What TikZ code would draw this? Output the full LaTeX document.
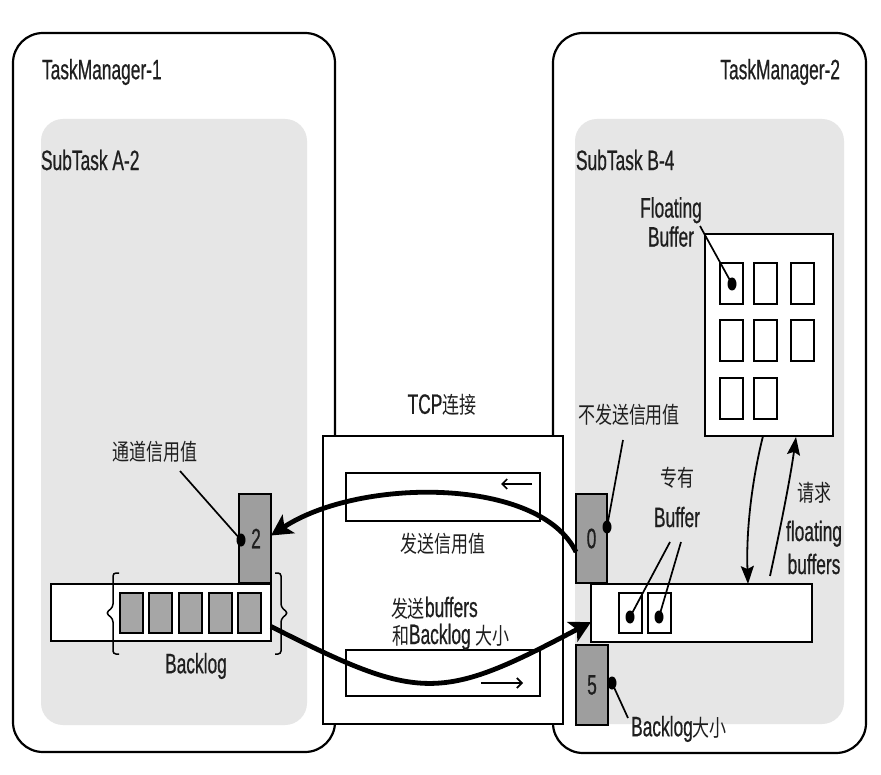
\documentclass[tikz,border=0pt]{standalone}
\usepackage{fontspec}
\setmainfont{Liberation Sans}[FakeStretch=0.62,FakeBold=0.6]
\newfontfamily\cjk{Noto Sans CJK SC}[FakeStretch=0.74,Scale=0.82]
\usetikzlibrary{arrows.meta}
\definecolor{subgray}{HTML}{E6E6E6}
\definecolor{credgray}{HTML}{9E9E9E}
\definecolor{sqgray}{HTML}{A6A6A6}
\begin{document}
\begin{tikzpicture}[x=1pt,y=-1pt,
  every node/.style={font=\fontsize{28}{33}\selectfont, inner sep=0pt, outer sep=0pt, text=black!88},
  tmbox/.style={draw, line width=2.2pt, rounded corners=30pt, fill=white, anchor=north west},
  subbox/.style={fill=subgray, rounded corners=22pt, anchor=north west},
  wbox/.style={draw, line width=2pt, fill=white, anchor=north west},
  gbox/.style={draw, line width=2pt, fill=credgray, anchor=north west},
  bsq/.style={draw, line width=2pt, fill=sqgray, anchor=north west, minimum width=23pt, minimum height=40pt},
  wsq/.style={draw, line width=2pt, fill=white, anchor=north west, minimum width=23pt, minimum height=41pt},
  leader/.style={line width=1.7pt},
  bigarrow/.style={line width=4.8pt, -{Stealth[length=21pt,width=22pt,inset=5pt]}},
  poolarrow/.style={line width=1.8pt, -{Stealth[length=18pt,width=13pt,inset=3pt]}},
  smallarrow/.style={line width=1.7pt, -{Straight Barb[length=5pt,width=10pt]}},
  dotmark/.style={fill=black}
]
\useasboundingbox (0,0) rectangle (881,775);
% TaskManager boxes
\node[tmbox, minimum width=322pt, minimum height=719pt] (tm1) at (13,33) {};
\node[tmbox, minimum width=313pt, minimum height=720pt] (tm2) at (553,33) {};
\node[subbox, minimum width=266pt, minimum height=606pt] (sub1) at (41,119) {};
\node[subbox, minimum width=269pt, minimum height=605pt] (sub2) at (575,119) {};
\node[anchor=west] (tm1lbl) at (42,72) {TaskManager-1};
\node[anchor=east] (tm2lbl) at (840,72) {TaskManager-2};
\node[anchor=west] (sub1lbl) at (41,160) {SubTask A-2};
\node[anchor=west] (sub2lbl) at (576,160) {SubTask B-4};

% TCP box
\node[wbox, minimum width=240pt, minimum height=288pt] (tcp) at (323,436) {};
\node (tcplbl) at (442,405) {TCP{\cjk 连接}};
\node[wbox, minimum width=194pt, minimum height=48pt] (ctop) at (346,473) {};
\node[wbox, minimum width=194pt, minimum height=46pt] (cbot) at (346,650) {};
\node (sendcred) at (443,544) {\cjk 发送信用值};
\node[anchor=base west] (sendbuf1) at (391,617) {{\cjk 发送}buffers};
\node[anchor=base west] (sendbuf2) at (392,644) {{\cjk 和}Backlog {\cjk 大小}};
\coordinate (a1s) at (532,484);
\coordinate (a1e) at (501,484);
\coordinate (a2s) at (481,683);
\coordinate (a2e) at (523,683);
\draw[smallarrow] (a1s) -- (a1e);
\draw[smallarrow] (a2s) -- (a2e);

% Left side: backlog
\node[wbox, minimum width=220pt, minimum height=57pt] (lbar) at (51,584) {};
\node[gbox, minimum width=32pt, minimum height=89pt] (two) at (239,494) {};
\node (twolbl) at ([xshift=1pt]two.center) {2};
\node[bsq] (b1) at (120,593) {};
\node[bsq] (b2) at (149,593) {};
\node[bsq] (b3) at (179,593) {};
\node[bsq] (b4) at (209,593) {};
\node[bsq] (b5) at (238,593) {};
\draw[line width=1.5pt, rounded corners=3pt] (119,573) -- (113,573) -- (113,607) -- (106,613) -- (113,619) -- (113,654) -- (119,654);
\draw[line width=1.5pt, rounded corners=3pt] (275,573) -- (281,573) -- (281,607) -- (288,613) -- (281,619) -- (281,654) -- (275,654);
\node (backloglbl) at (196,666) {Backlog};
\node (credlbl) at (155,452) {\cjk 通道信用值};
\coordinate (d2) at (241,540);
\coordinate (l2) at (180,471);
\draw[leader] (l2) -- (d2);
\fill[dotmark] (d2) ellipse [x radius=4.5pt, y radius=6.5pt];

% Right side
\node[gbox, minimum width=31pt, minimum height=89pt] (zero) at (576,494) {};
\node (zerolbl) at (zero.center) {0};
\node[gbox, minimum width=32pt, minimum height=80pt] (five) at (576,645) {};
\node (fivelbl) at (five.center) {5};
\node[wbox, minimum width=221pt, minimum height=58pt] (rbar) at (591,584) {};
\node[wsq, minimum height=40pt] (e1) at (619,593) {};
\node[wsq, minimum height=40pt] (e2) at (648,593) {};
\node[wbox, minimum width=128pt, minimum height=202pt] (pool) at (705,234) {};
\node[wsq] (p1) at (720,263) {};
\node[wsq] (p2) at (754,263) {};
\node[wsq] (p3) at (791,263) {};
\node[wsq] (p4) at (720,320) {};
\node[wsq] (p5) at (754,320) {};
\node[wsq] (p6) at (791,320) {};
\node[wsq] (p7) at (720,378) {};
\node[wsq] (p8) at (754,378) {};

\node (nosend) at (629,415) {\cjk 不发送信用值};
\node[align=center] (dedlbl) at (677,497) {{\cjk 专有}\\[8pt]Buffer};
\node[align=center, font=\fontsize{28}{29}\selectfont] (floatlbl) at (671,222) {Floating\\Buffer};
\node[align=center] (reqlbl) at (814,528) {{\cjk 请求}\\[7pt]floating\\buffers};
\node (blsize) at (679,729) {Backlog{\cjk 大小}};

\coordinate (d0) at (607,527);
\coordinate (l0) at (623,440);
\draw[leader] (l0) -- (d0);
\coordinate (d5) at (612,683);
\coordinate (l5) at (628,718);
\draw[leader] (d5) -- (l5);
\coordinate (de1) at (630,617);
\coordinate (de2) at (659,617);
\coordinate (le1) at (670,542);
\coordinate (le2) at (681,542);
\draw[leader] (le1) -- (de1);
\draw[leader] (le2) -- (de2);
\coordinate (dp) at (732,284);
\coordinate (lp) at (700,226);
\draw[leader] (lp) -- (dp);
\foreach \d in {d0,d5,de1,de2,dp}
  \fill[dotmark] (\d) ellipse [x radius=4.5pt, y radius=6.5pt];

% pool arrows
\coordinate (pd) at (763,436);
\coordinate (bd) at (748,584);
\coordinate (bu) at (770,576);
\coordinate (pu) at (796,437);
\draw[poolarrow] (pd) .. controls (752,480) and (746,530) .. (bd);
\draw[poolarrow] (bu) .. controls (780,530) and (790,480) .. (pu);

% big arrows
\draw[bigarrow] ([yshift=-13.5pt]zero.west) .. controls (540,477) and (360,477) .. ([yshift=3pt]two.east);
\draw[bigarrow] ([yshift=-14pt]lbar.east) .. controls (420,702) and (440,702) .. ([yshift=-9pt]rbar.west);
\end{tikzpicture}
\end{document}
